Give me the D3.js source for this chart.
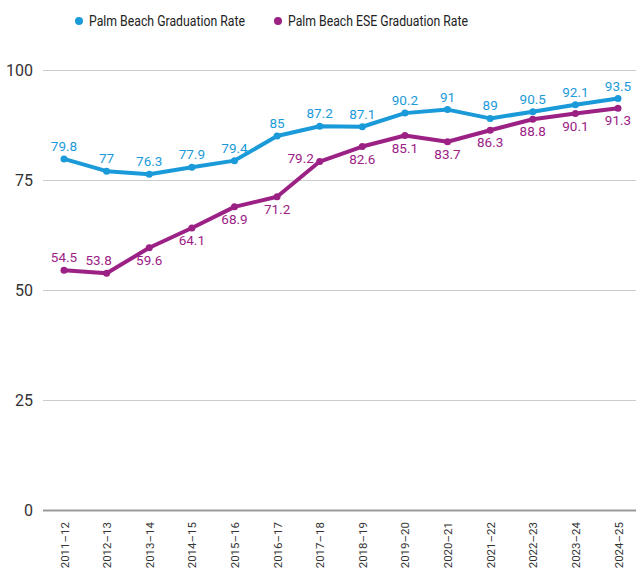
<!DOCTYPE html>
<html>
<head>
<script src="https://d3js.org/d3.v7.min.js"></script>
<style>
  body { margin: 0; background: #fff; }
  text { font-family: Roboto, "Noto Sans", sans-serif; }
</style>
</head>
<body>
<svg id="chart" width="636" height="570"></svg>
<script>
var years = ["2011–12", "2012–13", "2013–14", "2014–15", "2015–16", "2016–17", "2017–18",
             "2018–19", "2019–20", "2020–21", "2021–22", "2022–23", "2023–24", "2024–25"];
var gradRate = [79.8, 77, 76.3, 77.9, 79.4, 85, 87.2, 87.1, 90.2, 91, 89, 90.5, 92.1, 93.5];
var eseRate = [54.5, 53.8, 59.6, 64.1, 68.9, 71.2, 79.2, 82.6, 85.1, 83.7, 86.3, 88.8, 90.1, 91.3];
var yTicks = [0, 25, 50, 75, 100];
// where each ESE label sits relative to its point
var eseLabelPos = ["above", "aboveLeft", "below", "below", "below", "below", "left",
                   "below", "below", "below", "below", "below", "below", "below"];

var svg = d3.select("#chart");
var x = d3.scalePoint().domain(years).range([64, 618]);
var y = d3.scaleLinear().domain([0, 100]).range([510, 70]);

// gridlines + y labels
var yAxis = svg.append("g").attr("transform", "translate(43,0)")
  .call(d3.axisLeft(y).tickValues(yTicks).tickSize(-593).tickPadding(10));
yAxis.select(".domain").remove();
yAxis.selectAll(".tick line").attr("stroke", d => d === 0 ? "#999" : "#ccc")
  .attr("stroke-width", d => d === 0 ? 2 : 1);
yAxis.selectAll(".tick text").attr("font-size", 16).attr("fill", "#333")
  .style("font-family", "Roboto, sans-serif");

// x labels
var xAxis = svg.append("g").attr("transform", "translate(0,511)")
  .call(d3.axisBottom(x).tickSize(0).tickPadding(0));
xAxis.select(".domain").remove();
xAxis.selectAll(".tick text")
  .attr("transform", "rotate(-90)")
  .attr("text-anchor", "end")
  .attr("x", -11).attr("y", 0).attr("dy", "0.35em")
  .attr("font-size", 11.5).attr("fill", "#333")
  .style("font-family", "Roboto, sans-serif");

var series = [
  { name: "Palm Beach Graduation Rate", values: gradRate, color: "#1a9ad9", legendW: 156 },
  { name: "Palm Beach ESE Graduation Rate", values: eseRate, color: "#9c2185", legendW: 180 }
];

var line = d3.line().x((d, i) => x(years[i])).y(d => y(d));

series.forEach(function(s, si) {
  var g = svg.append("g");
  g.append("path").datum(s.values)
    .attr("d", line).attr("fill", "none")
    .attr("stroke", s.color).attr("stroke-width", 4).attr("stroke-linejoin", "round");
  g.selectAll("circle").data(s.values).join("circle")
    .attr("cx", (d, i) => x(years[i])).attr("cy", d => y(d))
    .attr("r", 3.5).attr("fill", s.color);
  g.selectAll("text").data(s.values).join("text")
    .attr("x", function(d, i) {
      var p = si === 1 ? eseLabelPos[i] : "above";
      var off = p === "left" ? -19 : p === "aboveLeft" ? -8 : 0;
      return x(years[i]) + off;
    })
    .attr("y", function(d, i) {
      var p = si === 1 ? eseLabelPos[i] : "above";
      if (p === "below") return y(d) + 17;
      if (p === "left") return y(d) + 1;
      return y(d) - 8;
    })
    .attr("text-anchor", "middle")
    .attr("font-size", 13.5).attr("fill", s.color)
    .text(d => d);
});

// legend
var legend = svg.append("g").attr("transform", "translate(79,21)");
var lx = [0, 199];
series.forEach(function(s, i) {
  var lg = legend.append("g").attr("transform", "translate(" + lx[i] + ",0)");
  lg.append("circle").attr("r", 4).attr("fill", s.color);
  lg.append("text").attr("x", 10).attr("dy", "0.35em")
    .attr("font-size", 15).attr("fill", "#222")
    .attr("textLength", s.legendW).attr("lengthAdjust", "spacingAndGlyphs")
    .text(s.name);
});
</script>
</body>
</html>
